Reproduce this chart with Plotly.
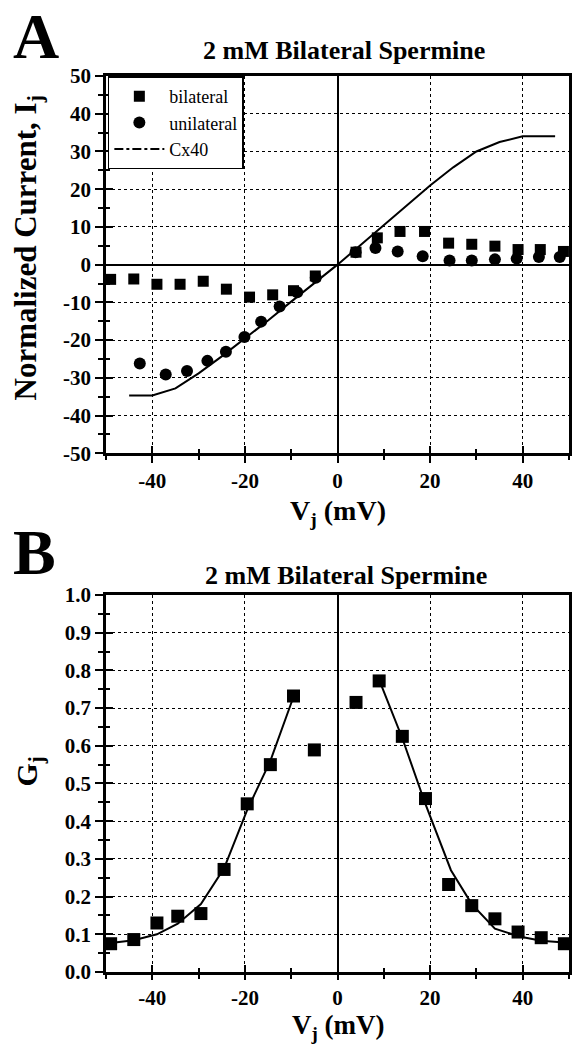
import plotly.graph_objects as go

# ---------------- data ----------------
# Panel A : normalized junctional current
bil_v = [-49, -44, -39, -34, -29, -24, -19, -14, -9.5, -4.8, 4, 8.6, 13.5, 18.8, 24, 29, 34, 39, 43.8, 48.8]
bil_i = [-3.9, -3.8, -5.2, -5.2, -4.4, -6.5, -8.6, -8.0, -6.9, -3.0, 3.3, 7.1, 8.8, 8.8, 5.7, 5.4, 4.9, 4.0, 4.0, 3.5]

uni_v = [-42.7, -37.1, -32.5, -28.1, -24.1, -20.1, -16.5, -12.5, -8.7, -4.7, 3.9, 8.2, 13.0, 18.4, 24.2, 29.0, 34.0, 38.7, 43.5, 48.0]
uni_i = [-26.2, -29.1, -28.2, -25.5, -23.1, -19.2, -15.1, -11.1, -7.3, -3.5, 3.3, 4.4, 3.5, 2.2, 1.1, 1.1, 1.4, 1.6, 2.0, 2.0]

cx40_v = [-45, -40, -35, -30, -25, -20, -15, -10, -5, 0, 5, 10, 15, 20, 25, 30, 35, 40, 47]
cx40_i = [-34.7, -34.7, -32.8, -28.8, -24.3, -19.6, -14.8, -9.8, -4.9, 0.0, 5.2, 10.5, 15.8, 21.0, 25.8, 30.0, 32.5, 34.0, 34.0]

# Panel B : normalized junctional conductance
gj_v = [-49, -44, -39, -34.5, -29.5, -24.5, -19.5, -14.5, -9.5, -5, 4, 9, 14, 19, 24, 29, 34, 39, 44, 49]
gj = [0.075, 0.086, 0.13, 0.148, 0.155, 0.272, 0.446, 0.55, 0.732, 0.589,
      0.715, 0.772, 0.625, 0.46, 0.232, 0.176, 0.141, 0.106, 0.091, 0.075]

fitL_v = [-49, -44, -39, -34.5, -29.5, -24.5, -19.5, -14.5, -9.5]
fitL_g = [0.077, 0.084, 0.10, 0.128, 0.18, 0.275, 0.43, 0.56, 0.73]
fitR_v = [9, 14, 19, 24.5, 29, 34, 39, 44, 49]
fitR_g = [0.775, 0.62, 0.445, 0.27, 0.18, 0.115, 0.095, 0.083, 0.078]

xticks = [-40, -20, 0, 20, 40]
xticklabels = ["-40", "-20", "0", "20", "40"]
yticksA = [-50, -40, -30, -20, -10, 0, 10, 20, 30, 40, 50]
yticklabelsA = ["-50", "-40", "-30", "-20", "-10", "0", "10", "20", "30", "40", "50"]
yticksB = [0.0, 0.1, 0.2, 0.3, 0.4, 0.5, 0.6, 0.7, 0.8, 0.9, 1.0]
yticklabelsB = ["0.0", "0.1", "0.2", "0.3", "0.4", "0.5", "0.6", "0.7", "0.8", "0.9", "1.0"]

title_txt = "2 mM Bilateral Spermine"

# ---------------- figure ----------------
SERIF = "Liberation Serif"
BLK = "black"

fig = go.Figure()

fig.add_trace(go.Scatter(x=bil_v, y=bil_i, mode="markers", name="bilateral",
                         marker=dict(symbol="square", size=11, color=BLK),
                         cliponaxis=False, xaxis="x", yaxis="y"))
fig.add_trace(go.Scatter(x=uni_v, y=uni_i, mode="markers", name="unilateral",
                         marker=dict(symbol="circle", size=12, color=BLK),
                         cliponaxis=False, xaxis="x", yaxis="y"))
fig.add_trace(go.Scatter(x=cx40_v, y=cx40_i, mode="lines", name="Cx40", showlegend=False,
                         line=dict(color=BLK, width=2), xaxis="x", yaxis="y"))
# legend entry for Cx40 (drawn dash-dot in the key)
fig.add_trace(go.Scatter(x=[None], y=[None], mode="lines", name="Cx40",
                         line=dict(color=BLK, width=2, dash="dashdot"), xaxis="x", yaxis="y"))

fig.add_trace(go.Scatter(x=fitL_v, y=fitL_g, mode="lines", showlegend=False,
                         line=dict(color=BLK, width=2), xaxis="x2", yaxis="y2"))
fig.add_trace(go.Scatter(x=fitR_v, y=fitR_g, mode="lines", showlegend=False,
                         line=dict(color=BLK, width=2), xaxis="x2", yaxis="y2"))
fig.add_trace(go.Scatter(x=gj_v, y=gj, mode="markers", showlegend=False,
                         marker=dict(symbol="square", size=13, color=BLK),
                         cliponaxis=False, xaxis="x2", yaxis="y2"))

# empty traces so the overlay axes (inner half of the crossing ticks) are drawn
fig.add_trace(go.Scatter(x=[None], y=[None], mode="markers", showlegend=False,
                         hoverinfo="skip", xaxis="x3", yaxis="y3"))
fig.add_trace(go.Scatter(x=[None], y=[None], mode="markers", showlegend=False,
                         hoverinfo="skip", xaxis="x4", yaxis="y4"))

tickfont = dict(family=SERIF, size=21, color=BLK, weight="bold")


def x_axis(tlen):
    return dict(range=[-50, 50], tickvals=xticks, ticktext=xticklabels,
                ticks="outside", ticklen=tlen, tickwidth=2,
                tickcolor=BLK, showline=True, linecolor=BLK, linewidth=2.5, mirror=True,
                showgrid=True, gridcolor=BLK, griddash="dot", gridwidth=1,
                zeroline=True, zerolinecolor=BLK, zerolinewidth=1.5,
                minor=dict(dtick=10, tick0=0, ticks="outside", ticklen=4, tickwidth=2,
                           tickcolor=BLK, showgrid=False),
                tickfont=tickfont, fixedrange=True)


def inner_ticks(rng, vals, minor_dtick, ov, anc):
    # second set of ticks drawn inside so the ticks cross the axis line
    return dict(overlaying=ov, anchor=anc, range=rng, tickvals=vals, ticks="inside",
                ticklen=7, tickwidth=2, tickcolor=BLK, showticklabels=False,
                showgrid=False, zeroline=False, showline=False, fixedrange=True,
                minor=dict(dtick=minor_dtick, tick0=0, ticks="inside", ticklen=4,
                           tickwidth=2, tickcolor=BLK, showgrid=False))


fig.update_layout(
    width=573, height=1045,
    margin=dict(l=106, r=1, t=76, b=73),
    paper_bgcolor="white", plot_bgcolor="white",
    font=dict(family=SERIF, color=BLK),
    xaxis=dict(domain=[0, 1], anchor="y", **x_axis(7)),
    yaxis=dict(domain=[0.5789, 1.0], anchor="x", range=[-50, 50],
               tickvals=yticksA, ticktext=yticklabelsA,
               ticks="outside", ticklen=8, tickwidth=2, tickcolor=BLK,
               showline=True, linecolor=BLK, linewidth=2.5, mirror=True,
               showgrid=True, gridcolor=BLK, griddash="dot", gridwidth=1,
               zeroline=True, zerolinecolor=BLK, zerolinewidth=1.5,
               minor=dict(dtick=5, tick0=0, ticks="outside", ticklen=5, tickwidth=2,
                          tickcolor=BLK, showgrid=False),
               tickfont=tickfont, fixedrange=True),
    xaxis2=dict(domain=[0, 1], anchor="y2", **x_axis(5)),
    yaxis2=dict(domain=[0, 0.4208], anchor="x2", range=[0, 1.0],
                tickvals=yticksB, ticktext=yticklabelsB,
                ticks="outside", ticklen=8, tickwidth=2, tickcolor=BLK,
                showline=True, linecolor=BLK, linewidth=2.5, mirror=True,
                showgrid=True, gridcolor=BLK, griddash="dot", gridwidth=1,
                zeroline=False,
                minor=dict(dtick=0.05, tick0=0, ticks="outside", ticklen=5, tickwidth=2,
                           tickcolor=BLK, showgrid=False),
                tickfont=tickfont, fixedrange=True),
    xaxis3=inner_ticks([-50, 50], xticks, 10, "x", "y"),
    yaxis3=inner_ticks([-50, 50], yticksA, 5, "y", "x"),
    xaxis4=inner_ticks([-50, 50], xticks, 10, "x2", "y2"),
    yaxis4=inner_ticks([0, 1.0], yticksB, 0.05, "y2", "x2"),
    legend=dict(x=0.004, y=0.9995, xanchor="left", yanchor="top",
                bgcolor="white", bordercolor=BLK, borderwidth=1.5,
                font=dict(family=SERIF, size=18, color=BLK),
                itemwidth=50, tracegroupgap=0),
    showlegend=True,
)

def px_x(p):
    return (p - 106) / 466.0

def px_y(p):
    return (972 - p) / 896.0

ann = [
    dict(text="<b>A</b>", x=px_x(10), y=px_y(37), xanchor="left", yanchor="middle",
         font=dict(size=64)),
    dict(text="<b>B</b>", x=px_x(10), y=px_y(552), xanchor="left", yanchor="middle",
         font=dict(size=64)),
    dict(text="<b>" + title_txt + "</b>", x=px_x(346), y=px_y(51), xanchor="center",
         yanchor="middle", font=dict(size=26)),
    dict(text="<b>" + title_txt + "</b>", x=px_x(348), y=px_y(575), xanchor="center",
         yanchor="middle", font=dict(size=26)),
    dict(text="<b>Normalized Current, I<sub>j</sub></b>", x=px_x(27), y=px_y(248),
         xanchor="center", yanchor="middle", textangle=-90, font=dict(size=31)),
    dict(text="<b>G<sub>j</sub></b>", x=px_x(28), y=px_y(772),
         xanchor="center", yanchor="middle", textangle=-90, font=dict(size=30)),
    dict(text="<b>V<sub>j</sub> (mV)</b>", x=px_x(339), y=px_y(512),
         xanchor="center", yanchor="middle", font=dict(size=28)),
    dict(text="<b>V<sub>j</sub> (mV)</b>", x=px_x(340), y=px_y(1027),
         xanchor="center", yanchor="middle", font=dict(size=27)),
]
for a in ann:
    a.update(xref="paper", yref="paper", showarrow=False)
    a["font"].update(family=SERIF, color=BLK)
fig.update_layout(annotations=ann)

fig.write_html("out.html")
